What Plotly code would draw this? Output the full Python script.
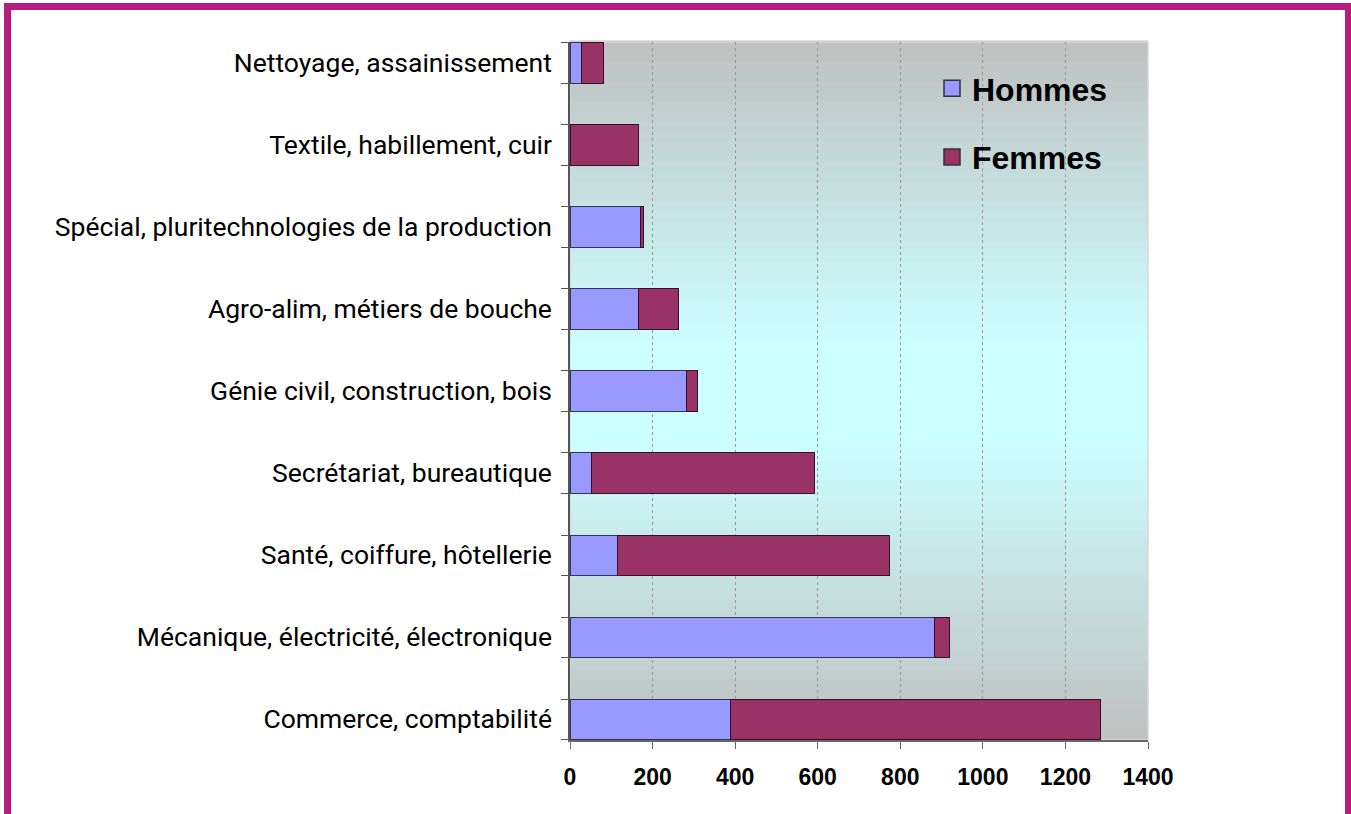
import plotly.graph_objects as go

categories = [
    "Nettoyage, assainissement",
    "Textile, habillement, cuir",
    "Spécial, pluritechnologies de la production",
    "Agro-alim, métiers de bouche",
    "Génie civil, construction, bois",
    "Secrétariat, bureautique",
    "Santé, coiffure, hôtellerie",
    "Mécanique, électricité, électronique",
    "Commerce, comptabilité",
]
hommes = [27, 2, 170, 165, 283, 51, 116, 884, 388]
femmes = [55, 165, 7, 99, 27, 542, 657, 34, 898]
series_names = ["Hommes", "Femmes"]
x_ticks = [0, 200, 400, 600, 800, 1000, 1200, 1400]

C_H = "#9999FF"
C_F = "#993366"
W, H = 1351, 814
L, R, T, B = 570, 1148, 42, 740
BAR_W = 0.488
PAD = 0.256
pos = list(range(len(categories)))


def px_x(p):
    return (p - L) / (R - L)


def px_y(p):
    return (B - p) / (B - T)


fig = go.Figure()
fig.add_trace(go.Bar(y=pos, x=hommes, name=series_names[0], orientation="h", width=BAR_W,
                     customdata=categories, hovertemplate="%{customdata}: %{x}<extra>Hommes</extra>",
                     marker=dict(color=C_H, line=dict(color="#333355", width=1)),
                     showlegend=False))
fig.add_trace(go.Bar(y=pos, x=femmes, name=series_names[1], orientation="h", width=BAR_W,
                     customdata=categories, hovertemplate="%{customdata}: %{x}<extra>Femmes</extra>",
                     marker=dict(color=C_F, line=dict(color="#331122", width=1)),
                     showlegend=False))
# legend entries
for nm, col, grp in [(series_names[0], C_H, "a"), (series_names[1], C_F, "b")]:
    fig.add_trace(go.Scatter(x=[None], y=[None], mode="markers", name=nm, legendgroup=grp,
                             marker=dict(symbol="square", size=20, color=col,
                                         line=dict(color="#333333", width=1.5))))

# gradient background shapes
shapes = []
N = 70
g0 = (192, 192, 192)
g1 = (204, 255, 255)
for i in range(N):
    t = (i + 0.5) / N
    f = 1 - abs(t - 0.5) / 0.5
    f = min(1, f * 1.15)
    c = tuple(int(round(g0[k] + (g1[k] - g0[k]) * f)) for k in range(3))
    shapes.append(dict(type="rect", xref="paper", yref="paper", x0=0, x1=1,
                       y0=i / N, y1=(i + 1) / N + 0.002, layer="below",
                       line=dict(width=0), fillcolor="rgb(%d,%d,%d)" % c))
# plot area light border
shapes.append(dict(type="rect", xref="paper", yref="paper", x0=0, x1=1, y0=0, y1=1,
                   layer="below", line=dict(color="#D8D8D8", width=1.5)))
# magenta frame
shapes.append(dict(type="rect", xref="paper", yref="paper",
                   x0=px_x(7.5), x1=px_x(1348.5), y0=px_y(6.5), y1=px_y(840),
                   layer="above", line=dict(color="#B71C80", width=7)))

edges = []
for p in pos:
    edges += [p - BAR_W / 2, p + BAR_W / 2]

fig.update_layout(
    width=W, height=H,
    margin=dict(l=L, r=W - R, t=T, b=H - B, pad=0),
    paper_bgcolor="white",
    plot_bgcolor="rgba(0,0,0,0)",
    barmode="stack",
    shapes=shapes,
    showlegend=True,
    legend=dict(x=px_x(932), y=px_y(61), xanchor="left", yanchor="top",
                bgcolor="rgba(0,0,0,0)", tracegroupgap=24, itemwidth=30,
                font=dict(family="Liberation Sans", size=32, color="black",
                          weight="bold")),
    font=dict(family="Roboto", color="black"),
)
fig.update_xaxes(range=[0, 1400], tickvals=x_ticks, ticktext=[str(v) for v in x_ticks],
                 showgrid=True, gridcolor="#999999", griddash="dot", gridwidth=1,
                 showline=True, linecolor="#666666", linewidth=1.5,
                 ticks="outside", ticklen=7, tickcolor="#666666", tickwidth=1,
                 tickfont=dict(family="Liberation Sans", size=23, color="black", weight="bold"),
                 ticklabelstandoff=9, zeroline=False, fixedrange=True)
fig.update_yaxes(range=[len(categories) - 1 + PAD, -PAD],
                 tickmode="array", tickvals=pos, ticktext=categories,
                 showline=True, linecolor="#555555", linewidth=1.5,
                 ticks="outside", ticklen=0, tickcolor="rgba(0,0,0,0)",
                 minor=dict(tickmode="array", tickvals=edges, ticks="outside", ticklen=7,
                            tickcolor="#555555", tickwidth=1, showgrid=False),
                 tickfont=dict(family="Roboto", size=26.5, color="black"),
                 ticklabelstandoff=11, showgrid=False, zeroline=False, fixedrange=True)

fig.write_html("out.html", config={"displayModeBar": False},
               post_script="document.body.style.margin='0';")
